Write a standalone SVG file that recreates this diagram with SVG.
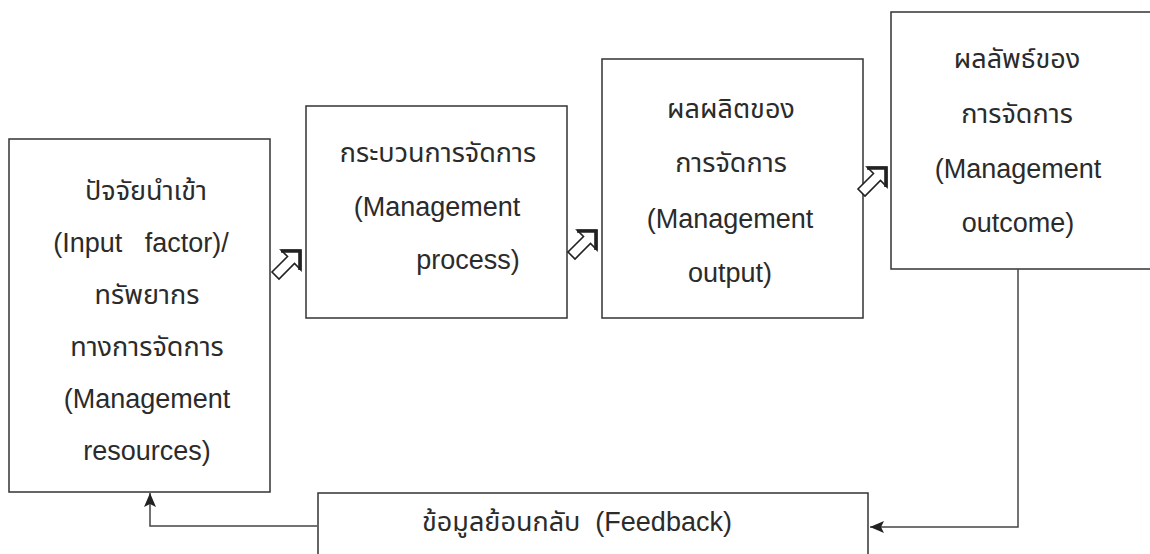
<svg xmlns="http://www.w3.org/2000/svg" xmlns:xlink="http://www.w3.org/1999/xlink" width="1150" height="554" viewBox="0 0 1150 554">
<style>
.box{fill:#fff;stroke:#333;stroke-width:1.5}
.t{font-family:"Liberation Sans","Noto Sans Thai","Noto Sans",sans-serif;font-size:27px;fill:#2b2b2b;text-anchor:middle;white-space:pre}
.line{fill:none;stroke:#444;stroke-width:1.5}
</style>
<defs>
<marker id="ah" viewBox="0 0 14 12" refX="14" refY="6" markerWidth="14" markerHeight="12" markerUnits="userSpaceOnUse" orient="auto">
<path d="M0,0 L14,6 L0,12 L3,6 Z" fill="#222"/>
</marker>
<g id="hollow">
<polygon points="29,0 9,0 15.5,6.5 0,22 7,29 22.5,13.5 29,20" fill="#fff" stroke="#222" stroke-width="1.6" stroke-linejoin="miter"/>
<polyline points="9,1.2 27.8,1.2 27.8,20" fill="none" stroke="#222" stroke-width="3.2"/>
</g>
</defs>
<rect width="1150" height="554" fill="#fff"/>
<g id="input">
<rect class="box" x="9" y="139" width="261" height="353"/>
<text class="t" x="146" y="200">ปัจจัยนำเข้า</text>
<text class="t" x="141" y="252">(Input   factor)/</text>
<text class="t" x="147" y="304">ทรัพยากร</text>
<text class="t" x="147" y="356">ทางการจัดการ</text>
<text class="t" x="147" y="408">(Management</text>
<text class="t" x="147" y="460">resources)</text>
</g>
<g id="process">
<rect class="box" x="306" y="106" width="261" height="212"/>
<text class="t" x="438" y="162">กระบวนการจัดการ</text>
<text class="t" x="437" y="216">(Management</text>
<text class="t" x="468" y="269">process)</text>
</g>
<g id="output">
<rect class="box" x="602" y="59" width="261" height="259"/>
<text class="t" x="731" y="118">ผลผลิตของ</text>
<text class="t" x="731" y="172">การจัดการ</text>
<text class="t" x="730" y="228">(Management</text>
<text class="t" x="730" y="282">output)</text>
</g>
<g id="outcome">
<rect class="box" x="891" y="12" width="270" height="257"/>
<text class="t" x="1017" y="68">ผลลัพธ์ของ</text>
<text class="t" x="1017" y="123">การจัดการ</text>
<text class="t" x="1018" y="178">(Management</text>
<text class="t" x="1018" y="232">outcome)</text>
</g>
<g id="feedback">
<rect class="box" x="318" y="493" width="550" height="80"/>
<text class="t" x="577" y="531">ข้อมูลย้อนกลับ  (Feedback)</text>
</g>
<g id="connectors">
<use xlink:href="#hollow" x="272" y="250"/>
<use xlink:href="#hollow" x="568" y="230"/>
<use xlink:href="#hollow" x="858" y="167"/>
<polyline class="line" points="1018,269 1018,527 870,527" marker-end="url(#ah)"/>
<polyline class="line" points="317,526 150,526 150,493" marker-end="url(#ah)"/>
</g>
</svg>
